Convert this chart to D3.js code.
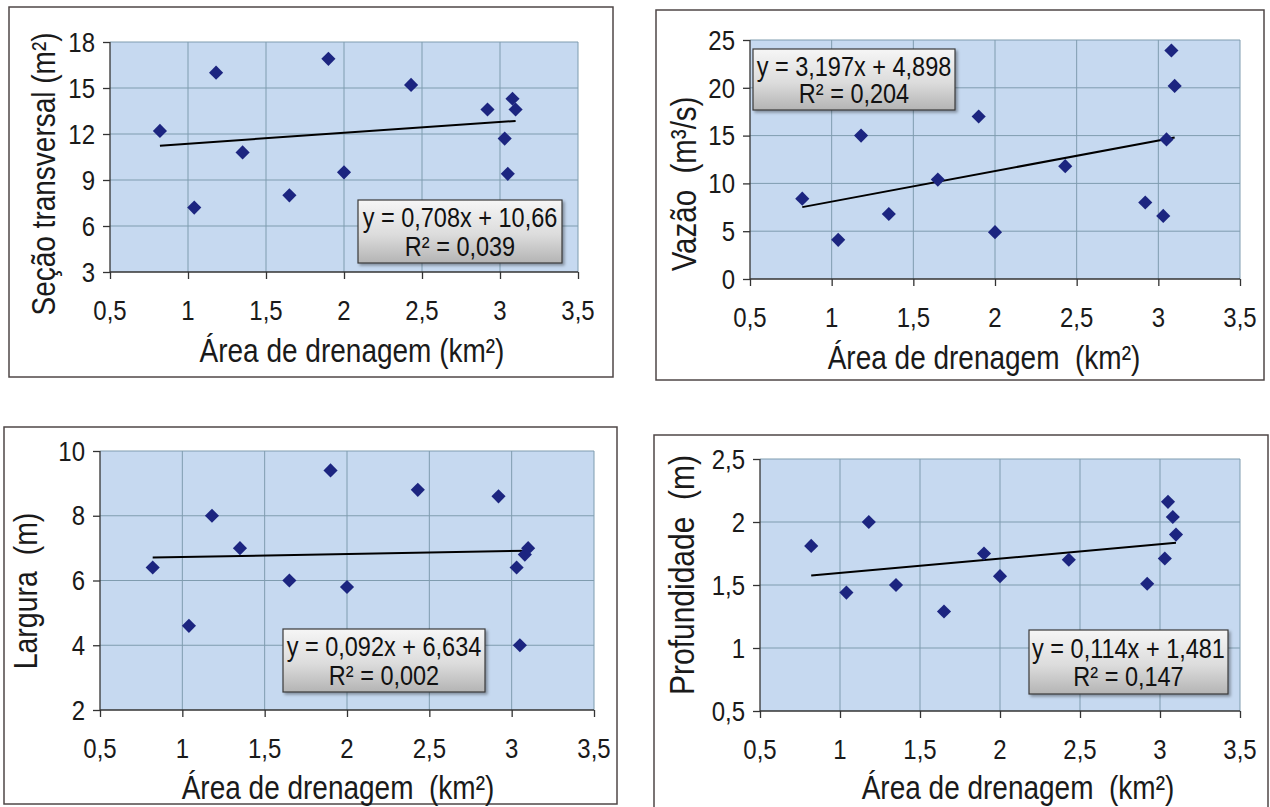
<!DOCTYPE html>
<html>
<head>
<meta charset="utf-8">
<script src="https://cdn.jsdelivr.net/npm/d3@7"></script>
<style>
  body { margin: 0; background: #fff; }
  svg { display: block; font-family: "Liberation Sans", Arial, sans-serif; }
  text { white-space: pre; }
  .frame { fill: #fff; stroke: #4f4747; stroke-width: 1.5; }
  .plot-bg { fill: #c6d9f0; }
  .grid line { stroke: #7f9caf; stroke-width: 1; }
  .axis path, .axis line { stroke: #333; stroke-width: 1.3; }
  .tick-label { font-size: 24px; fill: #1a1a1a; }
  .axis-title { fill: #1a1a1a; }
  .trend { stroke: #000; stroke-width: 2; fill: none; }
  .pt { fill: #1c2580; }
  .eq-box { fill: url(#boxGrad); stroke: #3a3a3a; stroke-width: 1.2; }
  .eq-text { font-size: 23.5px; fill: #111; }
</style>
</head>
<body>
<svg id="chart" width="1270" height="807"></svg>
<script>
// drainage area shared by all four panels (km²)
const areaKm2 = [0.82, 1.04, 1.18, 1.35, 1.65, 1.90, 2.00, 2.43, 2.92, 3.03, 3.05, 3.08, 3.10];

// measured variables
const secaoM2 = [12.2, 7.2, 16.0, 10.8, 8.0, 16.9, 9.5, 15.2, 13.6, 11.7, 9.4, 14.3, 13.6];
const vazaoM3s = [8.4, 4.1, 15.0, 6.8, 10.4, 17.0, 4.9, 11.8, 8.0, 6.6, 14.6, 23.9, 20.2];
const larguraM = [6.4, 4.6, 8.0, 7.0, 6.0, 9.4, 5.8, 8.8, 8.6, 6.4, 4.0, 6.8, 7.0];
const profundidadeM = [1.81, 1.44, 2.00, 1.50, 1.29, 1.75, 1.57, 1.70, 1.51, 1.71, 2.16, 2.04, 1.90];

// linear trend lines (as printed on the chart)
const slopes = [0.708, 3.197, 0.092, 0.114];
const intercepts = [10.66, 4.898, 6.634, 1.481];
const rSquared = [0.039, 0.204, 0.002, 0.147];

// axes
const xTicks = [0.5, 1, 1.5, 2, 2.5, 3, 3.5];
const yTicksList = [
  [3, 6, 9, 12, 15, 18],
  [0, 5, 10, 15, 20, 25],
  [2, 4, 6, 8, 10],
  [0.5, 1, 1.5, 2, 2.5]
];
const yTitles = ['Seção transversal (m²)', 'Vazão  (m³/s)', 'Largura  (m)', 'Profundidade  (m)'];
const xTitles = ['Área de drenagem (km²)', 'Área de drenagem  (km²)', 'Área de drenagem  (km²)', 'Área de drenagem  (km²)'];
const series = [secaoM2, vazaoM3s, larguraM, profundidadeM];

// layout for each panel (pixels)
const layout = [
  { frame: [9, 7, 613, 377], plot: [110, 42, 578, 272], yTitle: [43, 174, 28], xTitle: [352, 350], box: [358, 200, 562, 263] },
  { frame: [656, 10, 1264, 380], plot: [750, 40, 1240, 279], yTitle: [684, 184, 29.5], xTitle: [984, 357], box: [753, 49, 955, 110] },
  { frame: [4, 427, 617, 804], plot: [100, 451, 594, 710], yTitle: [26, 591, 28.5], xTitle: [338, 787], box: [283, 629, 485, 692] },
  { frame: [654, 435, 1268, 812], plot: [760, 459, 1240, 711], yTitle: [682, 575, 30], xTitle: [1018, 787], box: [1029, 630, 1228, 694] }
];

// glyphs in the source look tall and narrow
const GLYPH_STRETCH = 1.18;

const locale = d3.formatLocale({ decimal: ',', thousands: '.', grouping: [3], currency: ['R$', ''] });
const fmtTick = locale.format('~g');
const fmtCoef = locale.format('.4~r');
const fmtR2 = locale.format('.3f');

const svg = d3.select('#chart');

const defs = svg.append('defs');
const grad = defs.append('linearGradient').attr('id', 'boxGrad')
  .attr('x1', 0).attr('y1', 0).attr('x2', 0).attr('y2', 1);
grad.append('stop').attr('offset', '0%').attr('stop-color', '#f6f6f6');
grad.append('stop').attr('offset', '55%').attr('stop-color', '#dcdcdc');
grad.append('stop').attr('offset', '100%').attr('stop-color', '#b4b4b4');
defs.append('filter').attr('id', 'shadow')
  .attr('x', '-10%').attr('y', '-10%').attr('width', '130%').attr('height', '140%')
  .append('feDropShadow')
  .attr('dx', 2).attr('dy', 2).attr('stdDeviation', 1.5)
  .attr('flood-color', '#000').attr('flood-opacity', 0.35);

const diamond = d3.symbol().type(d3.symbolSquare).size(100);

// place text with a vertical glyph stretch
function stretched(x, y, rot) {
  return `translate(${x},${y})${rot ? ` rotate(${rot})` : ''} scale(1,${GLYPH_STRETCH})`;
}

series.forEach((values, i) => {
  const L = layout[i];
  const yTicks = yTicksList[i];
  const [px0, py0, px1, py1] = L.plot;
  const $g = svg.append('g').attr('class', 'panel');

  // outer chart frame
  $g.append('rect').attr('class', 'frame')
    .attr('x', L.frame[0]).attr('y', L.frame[1])
    .attr('width', L.frame[2] - L.frame[0]).attr('height', L.frame[3] - L.frame[1]);

  const x = d3.scaleLinear().domain(d3.extent(xTicks)).range([px0, px1]);
  const y = d3.scaleLinear().domain(d3.extent(yTicks)).range([py1, py0]);

  $g.append('rect').attr('class', 'plot-bg')
    .attr('x', px0).attr('y', py0).attr('width', px1 - px0).attr('height', py1 - py0);

  // gridlines
  const $grid = $g.append('g').attr('class', 'grid');
  $grid.selectAll('.gx').data(xTicks.slice(1)).join('line')
    .attr('x1', d => x(d)).attr('x2', d => x(d)).attr('y1', py0).attr('y2', py1);
  $grid.selectAll('.gy').data(yTicks.slice(1)).join('line')
    .attr('y1', d => y(d)).attr('y2', d => y(d)).attr('x1', px0).attr('x2', px1);

  // axes
  const $xAxis = $g.append('g').attr('class', 'axis')
    .attr('transform', `translate(0,${py1})`)
    .call(d3.axisBottom(x).tickValues(xTicks).tickSizeInner(7).tickSizeOuter(0).tickFormat(''));
  const $yAxis = $g.append('g').attr('class', 'axis')
    .attr('transform', `translate(${px0},0)`)
    .call(d3.axisLeft(y).tickValues(yTicks).tickSizeInner(7).tickSizeOuter(0).tickFormat(''));
  $xAxis.select('.domain').attr('d', `M${px0},0H${px1}`);
  $yAxis.select('.domain').attr('d', `M0,${py0}V${py1}`);

  $g.selectAll('.xlab').data(xTicks).join('text')
    .attr('class', 'tick-label')
    .attr('transform', d => stretched(x(d), py1 + 38))
    .attr('text-anchor', 'middle').attr('dominant-baseline', 'central')
    .text(fmtTick);
  $g.selectAll('.ylab').data(yTicks).join('text')
    .attr('class', 'tick-label')
    .attr('transform', d => stretched(px0 - 15, y(d)))
    .attr('text-anchor', 'end').attr('dominant-baseline', 'central')
    .text(fmtTick);

  // axis titles
  $g.append('text').attr('class', 'axis-title')
    .attr('transform', stretched(L.xTitle[0], L.xTitle[1]))
    .style('font-size', '28px')
    .attr('text-anchor', 'middle').attr('dominant-baseline', 'central')
    .text(xTitles[i]);
  $g.append('text').attr('class', 'axis-title')
    .attr('transform', stretched(L.yTitle[0], L.yTitle[1], -90))
    .style('font-size', `${L.yTitle[2]}px`)
    .attr('text-anchor', 'middle').attr('dominant-baseline', 'central')
    .text(yTitles[i]);

  // trend line over the range of the data
  const xr = d3.extent(areaKm2);
  $g.append('path').attr('class', 'trend')
    .datum(xr.map(v => [v, slopes[i] * v + intercepts[i]]))
    .attr('d', d3.line().x(d => x(d[0])).y(d => y(d[1])));

  // points
  $g.selectAll('.pt').data(values.map((v, k) => [areaKm2[k], v])).join('path')
    .attr('class', 'pt')
    .attr('transform', d => `translate(${x(d[0])},${y(d[1])}) rotate(45)`)
    .attr('d', diamond);

  // equation label
  const [bx0, by0, bx1, by1] = L.box;
  $g.append('rect').attr('class', 'eq-box')
    .attr('x', bx0).attr('y', by0).attr('width', bx1 - bx0).attr('height', by1 - by0)
    .attr('filter', 'url(#shadow)');
  const cx = (bx0 + bx1) / 2;
  $g.append('text').attr('class', 'eq-text')
    .attr('transform', stretched(cx, by0 + (by1 - by0) * 0.28))
    .attr('text-anchor', 'middle').attr('dominant-baseline', 'central')
    .text(`y = ${fmtCoef(slopes[i])}x + ${fmtCoef(intercepts[i])}`);
  $g.append('text').attr('class', 'eq-text')
    .attr('transform', stretched(cx, by0 + (by1 - by0) * 0.73))
    .attr('text-anchor', 'middle').attr('dominant-baseline', 'central')
    .text(`R² = ${fmtR2(rSquared[i])}`);
});
</script>
</body>
</html>
